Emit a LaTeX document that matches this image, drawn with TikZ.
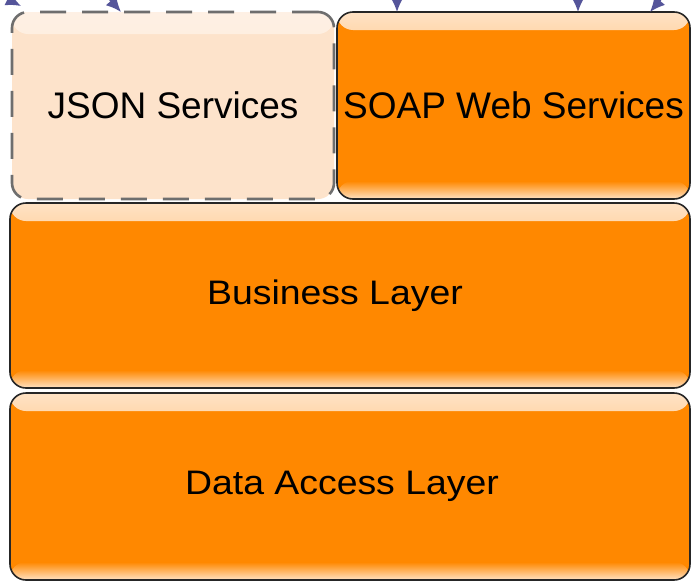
\documentclass[tikz,border=0pt]{standalone}
\usepackage{fontspec}
\setmainfont{Liberation Sans}
\usetikzlibrary{arrows.meta}
\definecolor{layerorange}{HTML}{FF8800}
\definecolor{layerlight}{HTML}{FFE2C4}
\definecolor{jsonfill}{HTML}{FDE3CB}
\definecolor{jsonlight}{HTML}{FEF0E4}
\definecolor{edgegray}{HTML}{6E6E6E}
\definecolor{linkblue}{HTML}{55559A}
\tikzset{
  layer/.style={draw=black!85, line width=1.6pt, rounded corners=16pt,
    fill=layerorange, inner sep=0pt,
    path picture={
      \shade[top color=layerlight, bottom color=layerorange]
        (path picture bounding box.north west) rectangle
        ([yshift=-18pt]path picture bounding box.north east);
      \shade[top color=layerorange, bottom color=layerlight]
        ([yshift=18pt]path picture bounding box.south west) rectangle
        (path picture bounding box.south east);
    }},
  optional/.style={draw=edgegray, line width=2.6pt, dash pattern=on 26pt off 16pt,
    rounded corners=16pt, fill=jsonfill, inner sep=0pt,
    path picture={
      \shade[top color=jsonlight, bottom color=jsonfill]
        (path picture bounding box.north west) rectangle
        ([yshift=-22pt]path picture bounding box.north east);
    }},
  bigtext/.style={font=\fontsize{37}{42}\selectfont},
  widetext/.style={font=\fontsize{34}{40}\selectfont},
  link/.style={draw=linkblue, line width=2pt,
    -{Latex[length=15pt,width=14pt]}},
}
\begin{document}
\begin{tikzpicture}[x=1pt,y=-1pt]
\useasboundingbox (0,0) rectangle (693,584);
\clip (0,0) rectangle (693,584);
\fill[white] (0,0) rectangle (693,584);

% service layer
\node[optional, bigtext, minimum width=322pt, minimum height=187pt] (json) at (173,105.5) {JSON Services};
\node[layer, bigtext, minimum width=353pt, minimum height=187pt] (soap) at (513.5,105.5) {SOAP Web Services};
% business and data layers
\node[layer, widetext, minimum width=680pt, minimum height=185pt] (business) at (350,295.5)
  {\scalebox{1.1}[1]{Business Layer}\hspace*{30pt}};
\node[layer, widetext, minimum width=680pt, minimum height=187pt] (data) at (350,486.5)
  {\scalebox{1.1}[1]{Data Access Layer}\hspace*{16pt}};

% incoming calls from the clients above
\coordinate (c1) at (-20,-25);
\coordinate (c2) at (75,-25);
\coordinate (c3) at (397,-40);
\coordinate (c4) at (578,-40);
\coordinate (c5) at (700,-30);
\coordinate (t1) at (21,6);
\coordinate (t2) at (121,12);
\coordinate (t3) at (397,12);
\coordinate (t4) at (578,12);
\coordinate (t5) at (650,12);
\draw[link] (c1) to[bend right=10] (t1);
\draw[link] (c2) to[bend left=10] (t2);
\draw[link] (c3) -- (t3);
\draw[link] (c4) -- (t4);
\draw[link] (c5) to[bend right=10] (t5);
\end{tikzpicture}
\end{document}
